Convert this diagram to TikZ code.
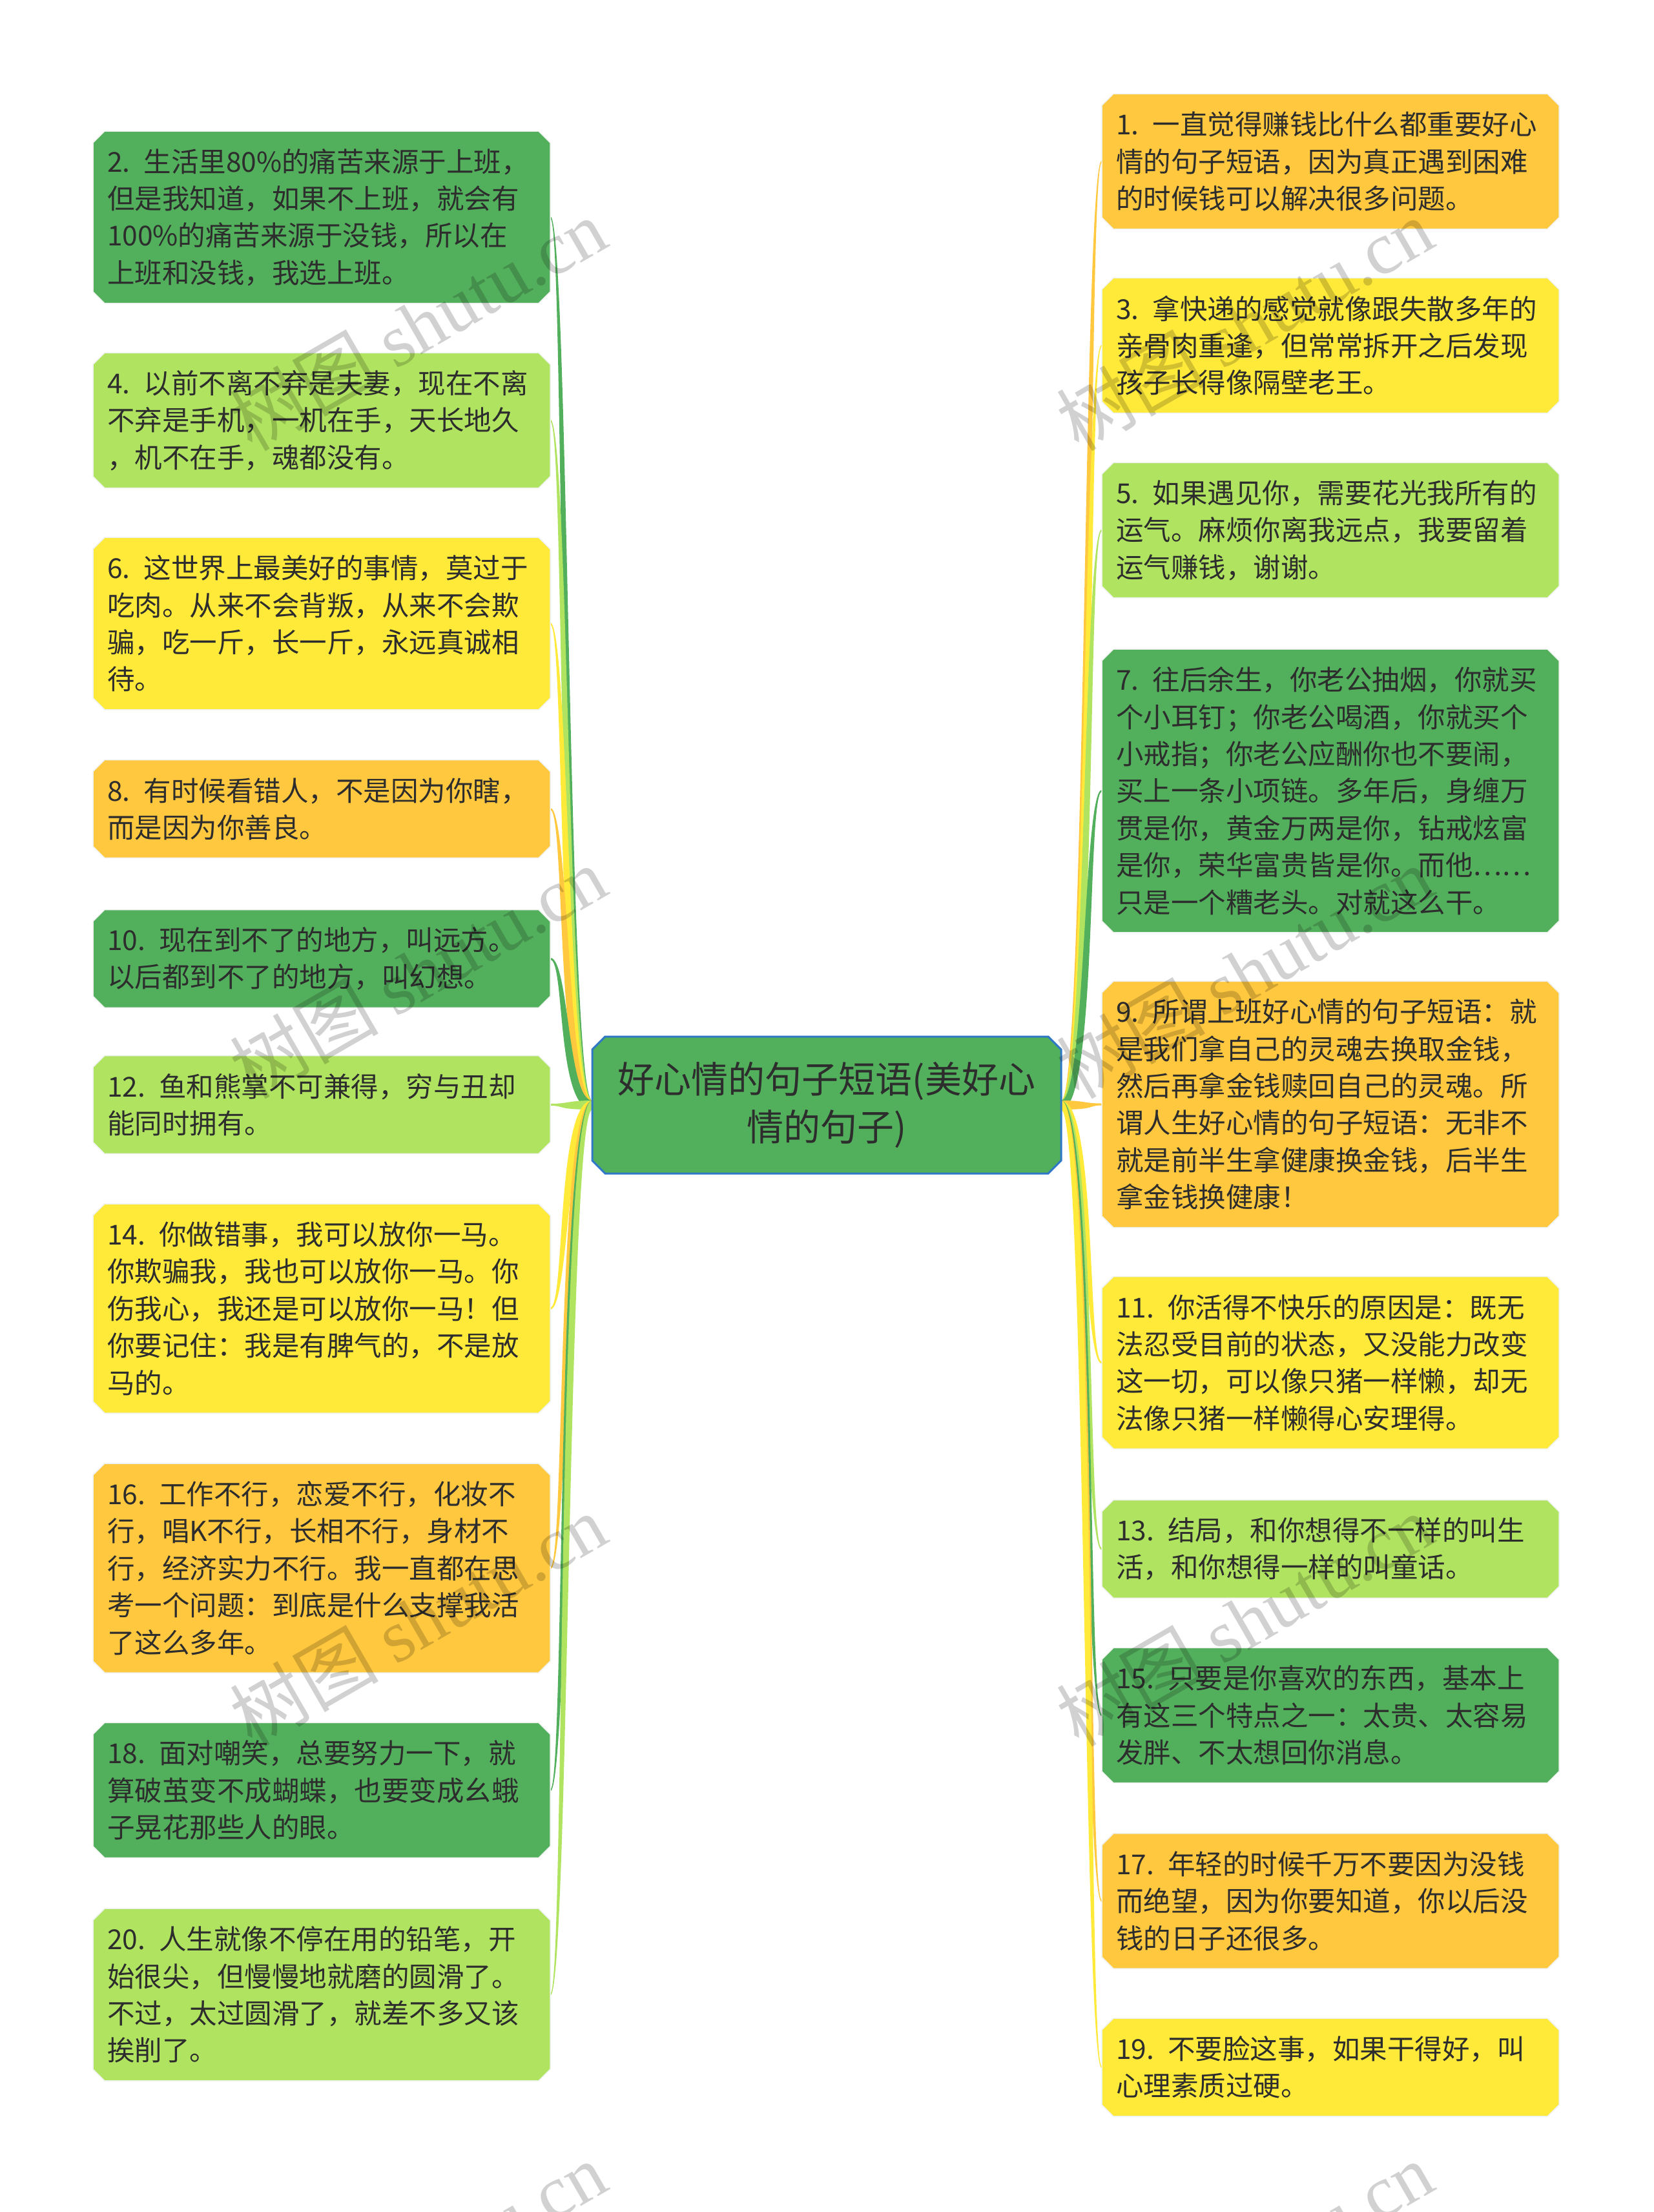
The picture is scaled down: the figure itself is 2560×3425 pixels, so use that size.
\documentclass[tikz,border=0pt]{standalone}
\usepackage{fontspec}
\setmainfont{Noto Sans CJK SC}
\newfontfamily\wmlatin{Liberation Serif}
\usetikzlibrary{calc}
\pgfdeclarelayer{conn}
\pgfdeclarelayer{boxes}
\pgfsetlayers{conn,boxes,main}
\definecolor{dg}{HTML}{52AF5C}
\definecolor{lg}{HTML}{B0E460}
\definecolor{yl}{HTML}{FFEA3A}
\definecolor{og}{HTML}{FFC83E}
\definecolor{txt}{HTML}{2D2D2D}
\definecolor{cborder}{HTML}{2F78C8}
\definecolor{edgecol}{HTML}{EEF2EE}
\newcommand\narrowspaces{\spaceskip=0.14em\relax}
\tikzset{
  leaf/.style={rectangle, draw=none, minimum width=708pt, text width=664pt, inner xsep=22pt, inner ysep=0pt, outer sep=0pt, align=left, text=txt, font=\fontsize{42.5pt}{57.4pt}\selectfont, execute at begin node=\narrowspaces},
  rootnode/.style={rectangle, draw=none, minimum width=726pt, minimum height=212pt, inner sep=0pt, outer sep=0pt, align=center, text=txt, font=\fontsize{57pt}{74pt}\selectfont},
  wm/.style={rotate=30, text=black, text opacity=0.18, font=\fontsize{115pt}{115pt}\selectfont}
}
\newcommand\chamf[3]{%
  \begin{pgfonlayer}{boxes}
  \path[#2] ($(#1.north west)+(#3,0)$) -- ($(#1.north east)+(-#3,0)$) -- ($(#1.north east)+(0,#3)$) -- ($(#1.south east)+(0,-#3)$) -- ($(#1.south east)+(-#3,0)$) -- ($(#1.south west)+(#3,0)$) -- ($(#1.south west)+(0,-#3)$) -- ($(#1.north west)+(0,#3)$) -- cycle;
  \end{pgfonlayer}}
\newcommand\lnode[5]{%
  \node[leaf, minimum height=#3pt] (#1) at (498,#2) {#5};
  \chamf{#1}{fill=#4, draw=edgecol, line width=1.5pt}{18}}
\newcommand\rnode[5]{%
  \node[leaf, minimum height=#3pt] (#1) at (2060,#2) {#5};
  \chamf{#1}{fill=#4, draw=edgecol, line width=1.5pt}{18}}
\newcommand\rconn[3]{%
  \begin{pgfonlayer}{conn}
  \fill[#2] ($(cen.east)+(0,-7)$) .. controls ($(cen.east)+({47+(#3)*9},-7)$) and ($(#1.west)+({-26+(#3)*3},-1.5)$) .. ($(#1.west)+(0,-1.5)$) -- ($(#1.west)+(0,1.5)$) .. controls ($(#1.west)+({-26-(#3)*3},1.5)$) and ($(cen.east)+({47-(#3)*9},7)$) .. ($(cen.east)+(0,7)$) -- cycle;
  \end{pgfonlayer}}
\newcommand\lconn[3]{%
  \begin{pgfonlayer}{conn}
  \fill[#2] ($(cen.west)+(0,-7)$) .. controls ($(cen.west)+({-47+(#3)*9},-7)$) and ($(#1.east)+({26+(#3)*3},-1.5)$) .. ($(#1.east)+(0,-1.5)$) -- ($(#1.east)+(0,1.5)$) .. controls ($(#1.east)+({26-(#3)*3},1.5)$) and ($(cen.west)+({-47-(#3)*9},7)$) .. ($(cen.west)+(0,7)$) -- cycle;
  \end{pgfonlayer}}
\begin{document}
\begin{tikzpicture}[x=1pt,y=-1pt]
\useasboundingbox (0,0) rectangle (2560,3425);
\begin{pgfonlayer}{conn}
\fill[white] (0,0) rectangle (2560,3425);
\end{pgfonlayer}
% root
\node[rootnode] (cen) at (1280,1711) {好心情的句子短语(美好心\\情的句子)};
\chamf{cen}{fill=dg, draw=cborder, line width=3pt}{20}
% left
\lnode{n2}{336.4}{266.6}{dg}{2. 生活里80\%的痛苦来源于上班，\\但是我知道，如果不上班，就会有\\100\%的痛苦来源于没钱，所以在\\上班和没钱，我选上班。}
\lnode{n4}{651}{209.2}{lg}{4. 以前不离不弃是夫妻，现在不离\\不弃是手机，一机在手，天长地久\\，机不在手，魂都没有。}
\lnode{n6}{965.5}{266.6}{yl}{6. 这世界上最美好的事情，莫过于\\吃肉。从来不会背叛，从来不会欺\\骗，吃一斤，长一斤，永远真诚相\\待。}
\lnode{n8}{1252.5}{151.8}{og}{8. 有时候看错人，不是因为你瞎，\\而是因为你善良。}
\lnode{n10}{1484.5}{151.8}{dg}{10. 现在到不了的地方，叫远方。\\以后都到不了的地方，叫幻想。}
\lnode{n12}{1710.5}{151.8}{lg}{12. 鱼和熊掌不可兼得，穷与丑却\\能同时拥有。}
\lnode{n14}{2026}{324}{yl}{14. 你做错事，我可以放你一马。\\你欺骗我，我也可以放你一马。你\\伤我心，我还是可以放你一马！但\\你要记住：我是有脾气的，不是放\\马的。}
\lnode{n16}{2428}{324}{og}{16. 工作不行，恋爱不行，化妆不\\行，唱K不行，长相不行，身材不\\行，经济实力不行。我一直都在思\\考一个问题：到底是什么支撑我活\\了这么多年。}
\lnode{n18}{2772}{209.2}{dg}{18. 面对嘲笑，总要努力一下，就\\算破茧变不成蝴蝶，也要变成幺蛾\\子晃花那些人的眼。}
\lnode{n20}{3088.5}{266.6}{lg}{20. 人生就像不停在用的铅笔，开\\始很尖，但慢慢地就磨的圆滑了。\\不过，太过圆滑了，就差不多又该\\挨削了。}
% right
\rnode{n1}{250}{209.2}{og}{1. 一直觉得赚钱比什么都重要好心\\情的句子短语，因为真正遇到困难\\的时候钱可以解决很多问题。}
\rnode{n3}{535}{209.2}{yl}{3. 拿快递的感觉就像跟失散多年的\\亲骨肉重逢，但常常拆开之后发现\\孩子长得像隔壁老王。}
\rnode{n5}{821}{209.2}{lg}{5. 如果遇见你，需要花光我所有的\\运气。麻烦你离我远点，我要留着\\运气赚钱，谢谢。}
\rnode{n7}{1224.5}{438.8}{dg}{7. 往后余生，你老公抽烟，你就买\\个小耳钉；你老公喝酒，你就买个\\小戒指；你老公应酬你也不要闹，\\买上一条小项链。多年后，身缠万\\贯是你，黄金万两是你，钻戒炫富\\是你，荣华富贵皆是你。而他……\\只是一个糟老头。对就这么干。}
\rnode{n9}{1710}{381.4}{og}{9. 所谓上班好心情的句子短语：就\\是我们拿自己的灵魂去换取金钱，\\然后再拿金钱赎回自己的灵魂。所\\谓人生好心情的句子短语：无非不\\就是前半生拿健康换金钱，后半生\\拿金钱换健康！}
\rnode{n11}{2110}{266.6}{yl}{11. 你活得不快乐的原因是：既无\\法忍受目前的状态，又没能力改变\\这一切，可以像只猪一样懒，却无\\法像只猪一样懒得心安理得。}
\rnode{n13}{2398.5}{151.8}{lg}{13. 结局，和你想得不一样的叫生\\活，和你想得一样的叫童话。}
\rnode{n15}{2656}{209.2}{dg}{15. 只要是你喜欢的东西，基本上\\有这三个特点之一：太贵、太容易\\发胖、不太想回你消息。}
\rnode{n17}{2943.5}{209.2}{og}{17. 年轻的时候千万不要因为没钱\\而绝望，因为你要知道，你以后没\\钱的日子还很多。}
\rnode{n19}{3201}{151.8}{yl}{19. 不要脸这事，如果干得好，叫\\心理素质过硬。}
% connectors
\rconn{n1}{og}{-1}
\rconn{n3}{yl}{-1}
\rconn{n5}{lg}{-1}
\rconn{n7}{dg}{-1}
\rconn{n9}{og}{-1}
\rconn{n11}{yl}{1}
\rconn{n13}{lg}{1}
\rconn{n15}{dg}{1}
\rconn{n17}{og}{1}
\rconn{n19}{yl}{1}
\lconn{n2}{dg}{1}
\lconn{n4}{lg}{1}
\lconn{n6}{yl}{1}
\lconn{n8}{og}{1}
\lconn{n10}{dg}{1}
\lconn{n12}{lg}{1}
\lconn{n14}{yl}{-1}
\lconn{n16}{og}{-1}
\lconn{n18}{dg}{-1}
\lconn{n20}{lg}{-1}
% watermarks
\node[wm] (wm1) at (647,502) {树图 {\wmlatin shutu.cn}};
\node[wm] (wm2) at (647,1505) {树图 {\wmlatin shutu.cn}};
\node[wm] (wm3) at (647,2508) {树图 {\wmlatin shutu.cn}};
\node[wm] (wm4) at (647,3511) {树图 {\wmlatin shutu.cn}};
\node[wm] (wm5) at (1927,502) {树图 {\wmlatin shutu.cn}};
\node[wm] (wm6) at (1927,1505) {树图 {\wmlatin shutu.cn}};
\node[wm] (wm7) at (1927,2508) {树图 {\wmlatin shutu.cn}};
\node[wm] (wm8) at (1927,3511) {树图 {\wmlatin shutu.cn}};
\end{tikzpicture}
\end{document}
